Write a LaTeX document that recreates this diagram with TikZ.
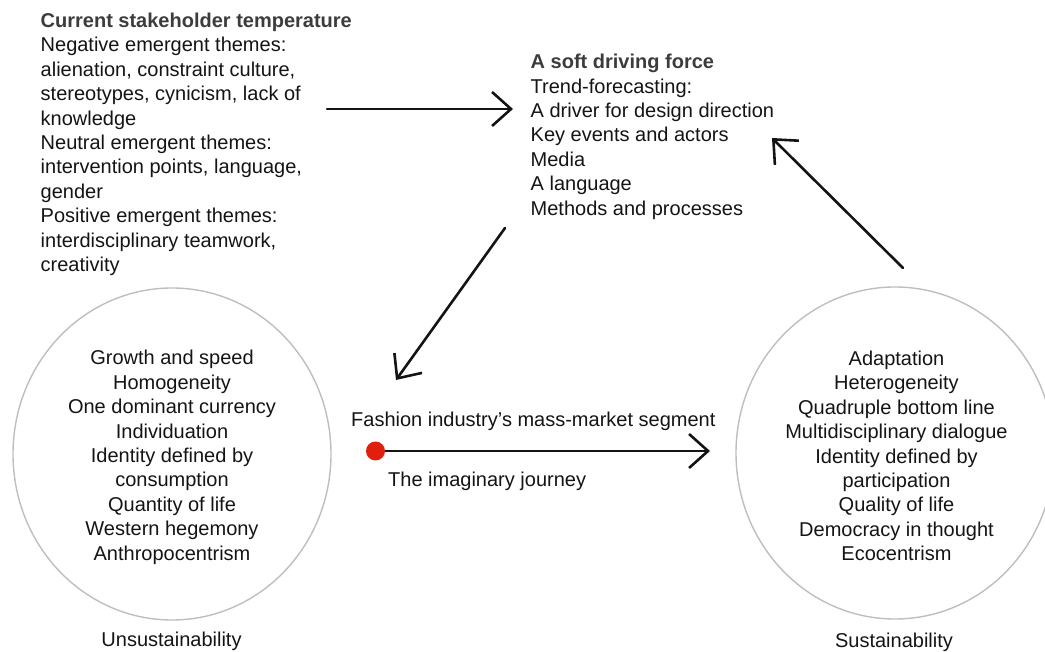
\documentclass[tikz,border=0pt]{standalone}
\usepackage{fontspec}
\setmainfont{Liberation Sans}
\usetikzlibrary{arrows.meta,shapes.geometric}
\definecolor{ink}{HTML}{141414}
\definecolor{headink}{HTML}{3C3C3C}
\definecolor{ringgray}{HTML}{BEBEBE}
\definecolor{dotred}{HTML}{E0200C}

\begin{document}
\begin{tikzpicture}[x=1pt,y=-1pt,
  txt/.style={inner sep=0pt, text=ink, font=\fontsize{20}{24.4}\selectfont},
  ring/.style={draw=ringgray, line width=1.4pt, ellipse, minimum width=318pt,
    minimum height=332pt, inner sep=0pt},
  flow/.style={line width=2.6pt, draw=ink, line cap=round,
    -{Straight Barb[length=19pt,width=34pt,line join=miter]}},
  startdot/.style={circle, fill=dotred, minimum size=19pt, inner sep=0pt},
  ]
\useasboundingbox (0,0) rectangle (1045,652);

% two contrasting worldviews
\node[ring] (unsus) at (172,454) {};
\node[ring] (sus)   at (895,453) {};

% stakeholder findings
\node[txt, align=left, anchor=north west] (temp) at (40.5,12.9)
  {\textbf{\color{headink}Current stakeholder temperature}\\
   Negative emergent themes:\\
   alienation, constraint culture,\\
   stereotypes, cynicism, lack of\\
   knowledge\\
   Neutral emergent themes:\\
   intervention points, language,\\
   gender\\
   Positive emergent themes:\\
   interdisciplinary teamwork,\\
   creativity};

% trend-forecasting as the driving force
\node[txt, align=left, anchor=north west] (force) at (530.5,54)
  {\textbf{\color{headink}A soft driving force}\\
   Trend-forecasting:\\
   A driver for design direction\\
   Key events and actors\\
   Media\\
   A language\\
   Methods and processes};

% contents of the two circles
\node[txt, align=center, anchor=north] (unsuslist) at (172,350.2)
  {Growth and speed\\
   Homogeneity\\
   One dominant currency\\
   Individuation\\
   Identity defined by\\
   consumption\\
   Quantity of life\\
   Western hegemony\\
   Anthropocentrism};
\node[txt, align=center, anchor=north] (suslist) at (896.5,350.8)
  {Adaptation\\
   Heterogeneity\\
   Quadruple bottom line\\
   Multidisciplinary dialogue\\
   Identity defined by\\
   participation\\
   Quality of life\\
   Democracy in thought\\
   Ecocentrism};

\node[txt, anchor=base] (unsuslabel) at (171.5,646.5) {Unsustainability};
\node[txt, anchor=base] (suslabel) at (894,647.5) {Sustainability};

% the journey across the mass market
\node[txt, anchor=base west] (segment) at (351,427)
  {Fashion industry’s mass-market segment};
\node[txt, anchor=base west] (journey) at (388,486) {The imaginary journey};

% connector end points
\coordinate (tempout)  at (327,109);
\coordinate (forcein)  at (513,109);
\coordinate (forceout) at (505,228);
\coordinate (unsusin)  at (396,380);
\coordinate (susout)   at (903,268);
\coordinate (forceret) at (772,138);
\coordinate (jstart)   at (375.5,451);
\coordinate (jend)     at (710,451);

\draw[flow] (tempout) -- (forcein);
\draw[flow] (forceout) -- (unsusin);
\draw[flow] (susout) -- (forceret);
\draw[flow] (jstart) -- (jend);
\node[startdot] (dot) at (jstart) {};
\end{tikzpicture}
\end{document}
